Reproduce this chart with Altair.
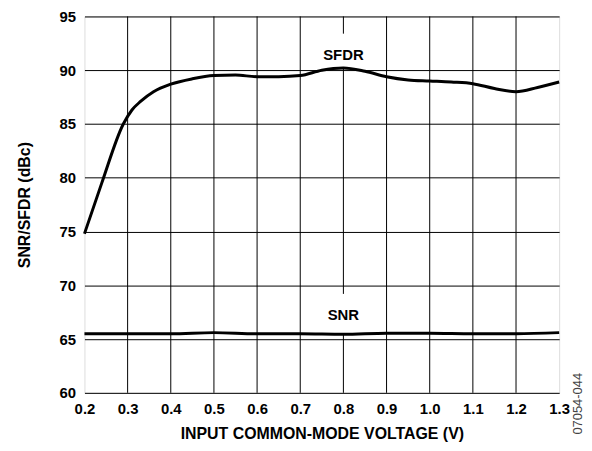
import altair as alt
import pandas as pd

# SFDR curve (dBc) vs input common-mode voltage (V)
sfdr_x = [0.2, 0.24, 0.29, 0.31, 0.33, 0.36, 0.4, 0.45, 0.5, 0.55, 0.6, 0.65, 0.7,
          0.75, 0.8, 0.85, 0.9, 0.95, 1.0, 1.05, 1.1, 1.15, 1.2, 1.25, 1.3]
sfdr_y = [74.8, 79.5, 85.0, 86.3, 87.1, 88.0, 88.7, 89.2, 89.5, 89.55, 89.4, 89.4, 89.5,
          90.0, 90.2, 89.9, 89.4, 89.1, 89.0, 88.9, 88.75, 88.3, 88.0, 88.4, 88.9]

# SNR curve (dBc)
snr_x = [0.2, 0.3, 0.4, 0.5, 0.6, 0.7, 0.8, 0.9, 1.0, 1.1, 1.2, 1.3]
snr_y = [65.5, 65.5, 65.5, 65.6, 65.5, 65.5, 65.45, 65.55, 65.55, 65.5, 65.5, 65.6]

# Vertical grid segments (the 0.8 line is broken around the labels)
grid_x = [0.3, 0.4, 0.5, 0.6, 0.7, 0.8, 0.8, 0.8, 0.9, 1.0, 1.1, 1.2]
grid_y1 = [60, 60, 60, 60, 60, 60, 69.2, 93.4, 60, 60, 60, 60]
grid_y2 = [95, 95, 95, 95, 95, 65.5, 90.2, 95, 95, 95, 95, 95]

# Curve labels
label_text = ["SFDR", "SNR"]
label_x = [0.8, 0.8]
label_y = [91.4, 67.2]

x_ticks = [0.2, 0.3, 0.4, 0.5, 0.6, 0.7, 0.8, 0.9, 1.0, 1.1, 1.2, 1.3]
y_ticks = [60, 65, 70, 75, 80, 85, 90, 95]

FONT = "Liberation Sans"

curves = pd.concat([
    pd.DataFrame({"v": sfdr_x, "db": sfdr_y, "s": "SFDR"}),
    pd.DataFrame({"v": snr_x, "db": snr_y, "s": "SNR"}),
])
grid = pd.DataFrame({"x": grid_x, "y1": grid_y1, "y2": grid_y2})
labels = pd.DataFrame({"t": label_text, "x": label_x, "y": label_y})

xscale = alt.Scale(domain=[0.2, 1.3], nice=False, zero=False)
yscale = alt.Scale(domain=[60, 95], nice=False, zero=False)

xaxis = alt.Axis(values=x_ticks, format=".1f", title="INPUT COMMON-MODE VOLTAGE (V)",
                 grid=False, ticks=False, tickSize=0, domain=False,
                 labelFlush=False, labelOverlap=False,
                 labelFont=FONT, labelFontSize=15, labelFontWeight="bold", labelColor="black",
                 labelPadding=9, titleFont=FONT, titleFontSize=16, titleFontWeight="bold",
                 titleColor="black", titlePadding=9)
yaxis = alt.Axis(values=y_ticks, title="SNR/SFDR (dBc)", grid=True, gridColor="black",
                 gridWidth=1, gridOpacity=1, ticks=False, tickSize=0, domain=False,
                 labelFlush=False, labelOverlap=False,
                 labelFont=FONT, labelFontSize=15, labelFontWeight="bold", labelColor="black",
                 labelPadding=9, titleFont=FONT, titleFontSize=16, titleFontWeight="bold",
                 titleColor="black", titlePadding=27)

gridlayer = alt.Chart(grid).mark_rule(color="black", strokeWidth=1).encode(
    x=alt.X("x:Q", scale=xscale, axis=xaxis),
    y=alt.Y("y1:Q", scale=yscale, axis=yaxis),
    y2="y2:Q",
)

lines = alt.Chart(curves).mark_line(color="black", strokeWidth=3, interpolate="monotone").encode(
    x=alt.X("v:Q", scale=xscale),
    y=alt.Y("db:Q", scale=yscale),
    detail="s:N",
)

text = alt.Chart(labels).mark_text(font=FONT, fontSize=15, fontWeight="bold", color="black",
                                   baseline="middle", align="center").encode(
    x=alt.X("x:Q", scale=xscale),
    y=alt.Y("y:Q", scale=yscale),
    text="t:N",
)

# with angle 270, dx moves up the page and dy moves right
code = alt.Chart(pd.DataFrame({"t": ["07054-044"]})).mark_text(
    font=FONT, fontSize=13, color="#444", angle=270, align="center", baseline="middle",
    dx=-11, dy=19,
).encode(
    x=alt.datum(1.3, scale=xscale),
    y=alt.datum(60, scale=yscale),
    text="t:N",
)

chart = alt.layer(gridlayer, lines, text, code).properties(
    width=478, height=379,
    autosize=alt.AutoSizeParams(type="none"),
    padding={"left": 77, "top": 7, "right": 25, "bottom": 49},
).configure_view(stroke="black", strokeWidth=2).configure(background="white")

chart.save("out.html", embed_options={"renderer": "svg", "actions": False})
